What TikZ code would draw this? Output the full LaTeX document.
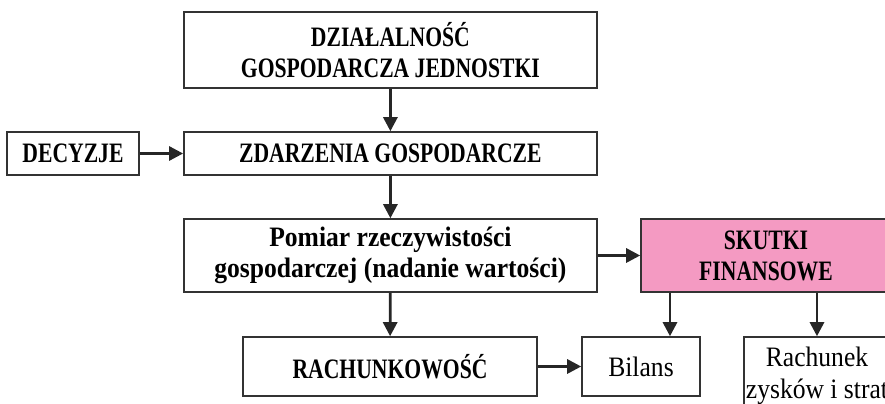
\documentclass[tikz,border=0pt]{standalone}
\usepackage{fontspec}
\setmainfont{Liberation Serif}
\newfontfamily\capsfont[FakeStretch=0.77]{Liberation Serif}
\newfontfamily\lowfont[FakeStretch=0.91]{Liberation Serif}
\usetikzlibrary{arrows.meta}
\definecolor{skutkipink}{HTML}{F49AC2}

\begin{document}
\begin{tikzpicture}[
		block/.style={draw=black!80, line width=1.1pt, inner sep=0pt, align=center,
			font=\capsfont\bfseries\fontsize{20}{22}\selectfont},
		lowblock/.style={block, font=\lowfont\bfseries\fontsize{20}{22.5}\selectfont},
		plainblock/.style={block, font=\lowfont\fontsize{20}{22.5}\selectfont},
		arr/.style={draw=black!85, line width=2pt, -{Triangle[length=10pt, width=10pt]}},
	]
	\clip (0, 0) rectangle (22.125, 10.1);

	\node[block, minimum width=10.325cm, minimum height=1.9cm] (dzial) at (9.76, 8.85)
		{DZIAŁALNOŚĆ\\GOSPODARCZA JEDNOSTKI};
	\node[block, minimum width=10.325cm, minimum height=1.075cm] (zdarz) at (9.76, 6.2625)
		{ZDARZENIA GOSPODARCZE};
	\node[block, minimum width=3.3cm, minimum height=1.075cm] (decyzje) at (1.825, 6.2625)
		{DECYZJE};
	\node[lowblock, minimum width=10.325cm, minimum height=1.825cm] (pomiar) at (9.76, 3.7125)
		{Pomiar rzeczywistości\\gospodarczej (nadanie wartości)};
	\node[block, fill=skutkipink, minimum width=6.25cm, minimum height=1.825cm] (skutki) at (19.15, 3.7125)
		{SKUTKI\\FINANSOWE};
	\node[block, minimum width=7.35cm, minimum height=1.475cm] (rachunk) at (9.75, 0.9375)
		{RACHUNKOWOŚĆ};
	\node[plainblock, minimum width=2.95cm, minimum height=1.475cm] (bilans) at (16.025, 0.9375)
		{Bilans};
	\node[plainblock, minimum width=3.65cm, minimum height=1.95cm] (rzis) at (20.425, 0.7)
		{Rachunek\\zysków i strat};

	\coordinate (bx) at (16.75, 0);

	\draw[arr] (dzial) -- (zdarz);
	\draw[arr] (decyzje) -- (zdarz);
	\draw[arr] (zdarz) -- (pomiar);
	\draw[arr] (pomiar.east) -- (skutki.west);
	\draw[arr] (pomiar) -- (rachunk);
	\draw[arr] (rachunk) -- (bilans);
	\draw[arr] (skutki.south -| bx) -- (bilans.north -| bx);
	\draw[arr] (skutki.south -| rzis.north) -- (rzis.north);
\end{tikzpicture}
\end{document}
